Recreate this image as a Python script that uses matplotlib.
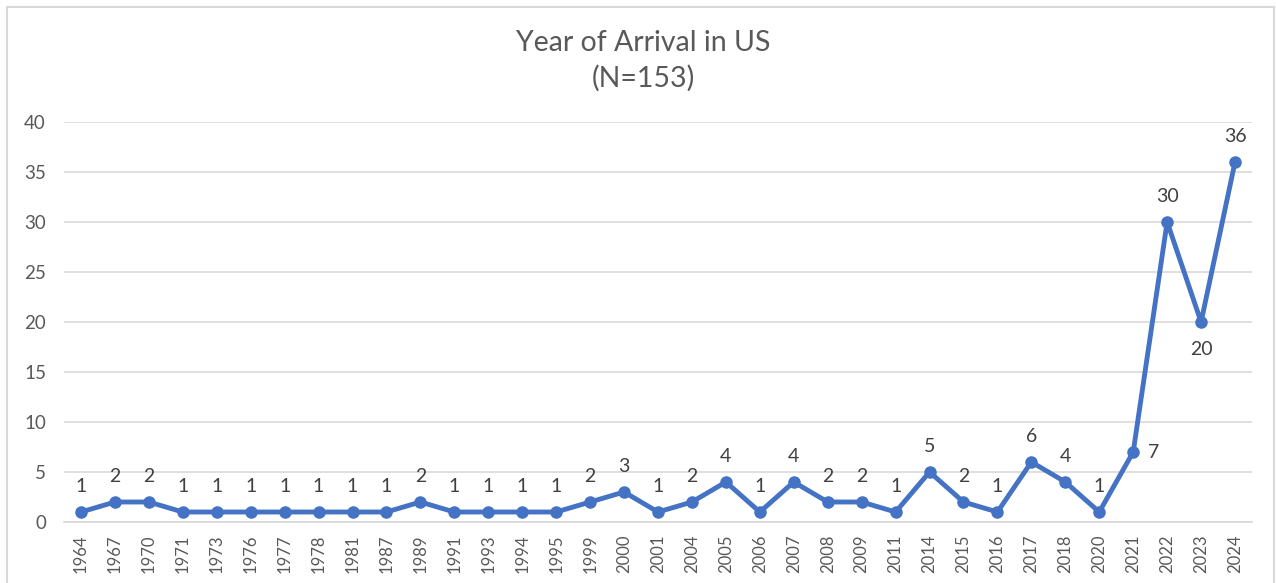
import matplotlib.pyplot as plt
from matplotlib.patches import Rectangle

years = ['1964', '1967', '1970', '1971', '1973', '1976', '1977', '1978', '1981', '1987',
         '1989', '1991', '1993', '1994', '1995', '1999', '2000', '2001', '2004', '2005',
         '2006', '2007', '2008', '2009', '2011', '2014', '2015', '2016', '2017', '2018',
         '2020', '2021', '2022', '2023', '2024']
counts = [1, 2, 2, 1, 1, 1, 1, 1, 1, 1,
          2, 1, 1, 1, 1, 2, 3, 1, 2, 4,
          1, 4, 2, 2, 1, 5, 2, 1, 6, 4,
          1, 7, 30, 20, 36]
yticks = [0, 5, 10, 15, 20, 25, 30, 35, 40]

plt.rcParams['font.family'] = ['Lato', 'DejaVu Sans']

fig = plt.figure(figsize=(12.76, 5.83), dpi=100)
ax = fig.add_axes([64/1276, 1 - 522/583, (1252 - 64)/1276, 400/583])

x = list(range(len(years)))
ax.plot(x, counts, color='#4472C4', linewidth=3.5, marker='o', markersize=8,
        solid_joinstyle='round', solid_capstyle='round', zorder=3)

# data labels, mostly above the point
for i, v in enumerate(counts):
    if years[i] == '2021':
        off = (15, 0)
    elif years[i] == '2023':
        off = (0, -20)
    else:
        off = (0, 18)
    ax.annotate(str(v), (i, v), xytext=off, textcoords='offset points',
                ha='center', va='center', fontsize=14, color='#404040')

ax.set_xlim(-0.5, len(years) - 0.5)
ax.set_ylim(0, 40)
ax.set_yticks(yticks)
ax.set_xticks(x)
ax.set_xticklabels(years, rotation=90)
ax.tick_params(axis='x', length=0, pad=9, labelsize=12, labelcolor='#595959')
ax.tick_params(axis='y', length=0, pad=13, labelsize=13.5, labelcolor='#595959')
ax.grid(axis='y', color='#D9D9D9', linewidth=1.2)
ax.set_axisbelow(True)
for s in ['top', 'right', 'left']:
    ax.spines[s].set_visible(False)
ax.spines['bottom'].set_color('#D9D9D9')
ax.spines['bottom'].set_linewidth(1.2)

fig.text(643/1276, 1 - 43/583, 'Year of Arrival in US', ha='center', va='center',
         fontsize=20.5, color='#595959')
fig.text(643/1276, 1 - 78/583, '(N=153)', ha='center', va='center',
         fontsize=20.5, color='#595959')

# light frame round the chart
fig.patches.append(Rectangle((7/1276, -0.05), 1267/1276, 1.05 - 7/583,
                             transform=fig.transFigure, fill=False,
                             edgecolor='#D9D9D9', linewidth=1.5))

fig.savefig('out.png', dpi=100)
